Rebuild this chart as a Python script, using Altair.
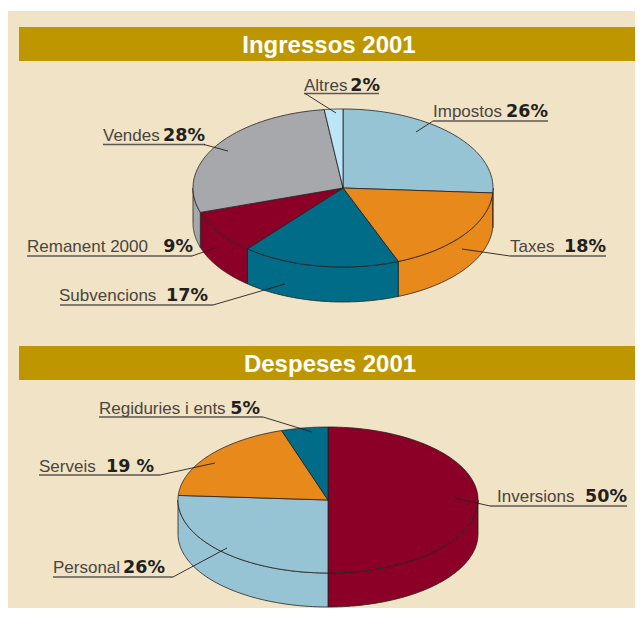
import altair as alt
import pandas as pd

# ---------------- data ----------------
titles = ["Ingressos 2001", "Despeses 2001"]

ing_cats = ["Impostos", "Taxes", "Subvencions", "Remanent 2000", "Vendes", "Altres"]
ing_vals = [26, 18, 17, 9, 28, 2]
ing_pct = ["26%", "18%", "17%", "9%", "28%", "2%"]

desp_cats = ["Inversions", "Personal", "Serveis", "Regiduries i ents"]
desp_vals = [50, 26, 19, 5]
desp_pct = ["50%", "26%", "19 %", "5%"]

# ---------------- styles ----------------
palette = {
    "Impostos": "#97C4D5", "Taxes": "#E8891B", "Subvencions": "#006C88",
    "Remanent 2000": "#8C0027", "Vendes": "#A7A8AC", "Altres": "#BDE5F8",
    "Inversions": "#8C0027", "Personal": "#97C4D5", "Serveis": "#E8891B",
    "Regiduries i ents": "#006C88",
}
BEIGE = "#F1E3C5"
GOLD = "#BE9700"
INK = "#231F20"
NAME_FONT = "Liberation Sans"
PCT_FONT = "DejaVu Sans"
TITLE_FONT = "Liberation Sans"

# ---------------- layout (reference pixel space) ----------------
W, H = 627, 600
xs = alt.Scale(domain=[8, 8 + W], nice=False, zero=False)
ys = alt.Scale(domain=[8, 8 + H], nice=False, zero=False, reverse=True)

pie_geom = {
    "ing": dict(cx=343, cy=188, rx=150, ry=79, depth=35),
    "desp": dict(cx=328, cy=500, rx=150, ry=73, depth=34),
}
panel = pd.DataFrame([dict(x0=3, x1=643, y0=11, y1=621)])
bars = pd.DataFrame([dict(x0=19, x1=643, y0=27, y1=61, title=titles[0], tx=329, ty=53),
                     dict(x0=19, x1=643, y0=346, y1=380, title=titles[1], tx=330, ty=372)])

# name-left, pct-right, baseline, underline y, underline x-range, leader from -> to
lab_layout = {
    "Impostos":      dict(tx0=433, tx1=548, by=117, uy=121, ux0=433, ux1=548, lx0=433, ly0=121, lx1=416, ly1=132),
    "Taxes":         dict(tx0=510, tx1=606, by=252, uy=256, ux0=510, ux1=606, lx0=510, ly0=256, lx1=462, ly1=249),
    "Subvencions":   dict(tx0=59,  tx1=208, by=301, uy=305, ux0=60,  ux1=213, lx0=213, ly0=305, lx1=285, ly1=284),
    "Remanent 2000": dict(tx0=27,  tx1=193, by=252, uy=256, ux0=27,  ux1=192, lx0=192, ly0=256, lx1=215, ly1=248),
    "Vendes":        dict(tx0=103, tx1=205, by=141, uy=144.5, ux0=103, ux1=205, lx0=204, ly0=144.5, lx1=228, ly1=151),
    "Altres":        dict(tx0=304, tx1=380, by=91,  uy=93.5, ux0=304, ux1=379, lx0=305, ly0=93.5, lx1=336, ly1=113),
    "Inversions":    dict(tx0=497, tx1=627, by=502, uy=506, ux0=490, ux1=627, lx0=490, ly0=506, lx1=455, ly1=498),
    "Personal":      dict(tx0=53,  tx1=165, by=573, uy=577, ux0=53,  ux1=173, lx0=173, ly0=577, lx1=227, ly1=548),
    "Serveis":       dict(tx0=39,  tx1=154, by=472, uy=475, ux0=39,  ux1=160, lx0=160, ly0=475, lx1=215, ly1=463),
    "Regiduries i ents": dict(tx0=99, tx1=260, by=414, uy=417, ux0=99, ux1=263, lx0=263, ly0=417, lx1=312, ly1=432),
}

all_cats = list(palette.keys())
cscale = alt.Scale(domain=all_cats, range=[palette[c] for c in all_cats])
N = 90


def pie(cats, vals, g):
    src = pd.DataFrame({"cat": cats, "value": vals, "idx": list(range(len(cats)))})
    base = (
        alt.Chart(src)
        .transform_window(cum="sum(value)", sort=[alt.SortField("idx")])
        .transform_joinaggregate(total="sum(value)")
        .transform_calculate(a0="2*PI*(datum.cum - datum.value)/datum.total")
        .transform_calculate(a1="2*PI*datum.cum/datum.total")
    )
    enc = dict(
        x=alt.X("px:Q", scale=xs, axis=None),
        y=alt.Y("py:Q", scale=ys, axis=None),
        order=alt.Order("k:Q"),
        detail="cat:N",
        color=alt.Color("cat:N", scale=cscale, legend=None),
    )
    mk = dict(filled=True, interpolate="linear-closed", stroke=INK, strokeWidth=0.8,
              strokeJoin="round", opacity=1)
    top = (
        base.transform_calculate(k=f"sequence(0, {N + 2})")
        .transform_flatten(["k"])
        .transform_calculate(r="datum.k == 0 ? 0 : 1")
        .transform_calculate(ang=f"datum.a0 + (datum.a1 - datum.a0) * max(datum.k - 1, 0) / {N}")
        .transform_calculate(px=f"{g['cx']} + {g['rx']} * datum.r * sin(datum.ang)")
        .transform_calculate(py=f"{g['cy']} - {g['ry']} * datum.r * cos(datum.ang)")
        .mark_line(**mk)
        .encode(**enc)
    )
    wall = (
        base.transform_calculate(s="max(datum.a0, PI/2)")
        .transform_calculate(e="min(datum.a1, 3*PI/2)")
        .transform_filter("datum.s < datum.e")
        .transform_calculate(k=f"sequence(0, {2 * N + 2})")
        .transform_flatten(["k"])
        .transform_calculate(bot=f"datum.k > {N} ? 1 : 0")
        .transform_calculate(
            ang=f"datum.k <= {N} ? datum.s + (datum.e - datum.s) * datum.k / {N} : "
                f"datum.e - (datum.e - datum.s) * (datum.k - {N + 1}) / {N}")
        .transform_calculate(px=f"{g['cx']} + {g['rx']} * sin(datum.ang)")
        .transform_calculate(py=f"{g['cy']} - {g['ry']} * cos(datum.ang) + {g['depth']} * datum.bot")
        .mark_line(**mk)
        .encode(**enc)
    )
    return [wall, top]


panel_l = alt.Chart(panel).mark_rect(color=BEIGE, clip=True).encode(
    x=alt.X("x0:Q", scale=xs, axis=None), x2="x1:Q",
    y=alt.Y("y0:Q", scale=ys, axis=None), y2="y1:Q")
bars_l = alt.Chart(bars).mark_rect(color=GOLD, clip=True).encode(
    x=alt.X("x0:Q", scale=xs, axis=None), x2="x1:Q",
    y=alt.Y("y0:Q", scale=ys, axis=None), y2="y1:Q")
titles_l = alt.Chart(bars).mark_text(font=TITLE_FONT, fontWeight="bold", fontSize=24,
                                     color="white", align="center", baseline="alphabetic").encode(
    x=alt.X("tx:Q", scale=xs, axis=None), y=alt.Y("ty:Q", scale=ys, axis=None), text="title:N")

rows = []
for cats, pcts in [(ing_cats, ing_pct), (desp_cats, desp_pct)]:
    for c, p in zip(cats, pcts):
        rows.append(dict(name=c, pct=p, **lab_layout[c]))
labels = pd.DataFrame(rows)
lab = alt.Chart(labels)
underline = lab.mark_rule(color="#5E5852", strokeWidth=1.3).encode(
    x=alt.X("ux0:Q", scale=xs, axis=None), x2="ux1:Q",
    y=alt.Y("uy:Q", scale=ys, axis=None), y2="uy:Q")
leader = lab.mark_rule(color=INK, strokeWidth=0.9).encode(
    x=alt.X("lx0:Q", scale=xs, axis=None), x2="lx1:Q",
    y=alt.Y("ly0:Q", scale=ys, axis=None), y2="ly1:Q")
name_t = lab.mark_text(font=NAME_FONT, fontSize=17, color="#4A4540", align="left",
                       baseline="alphabetic").encode(
    x=alt.X("tx0:Q", scale=xs, axis=None), y=alt.Y("by:Q", scale=ys, axis=None), text="name:N")
pct_t = lab.mark_text(font=PCT_FONT, fontWeight="bold", fontSize=17.5, color=INK, align="right",
                      baseline="alphabetic").encode(
    x=alt.X("tx1:Q", scale=xs, axis=None), y=alt.Y("by:Q", scale=ys, axis=None), text="pct:N")

layers = [panel_l, bars_l, titles_l]
layers += pie(ing_cats, ing_vals, pie_geom["ing"])
layers += pie(desp_cats, desp_vals, pie_geom["desp"])
layers += [underline, leader, name_t, pct_t]

chart = (
    alt.layer(*layers)
    .properties(width=W, height=H, padding=0, background="white",
                autosize=alt.AutoSizeParams(type="none"))
    .configure_view(stroke=None)
)
chart.save("out.html", embed_options={"renderer": "svg", "actions": False})
